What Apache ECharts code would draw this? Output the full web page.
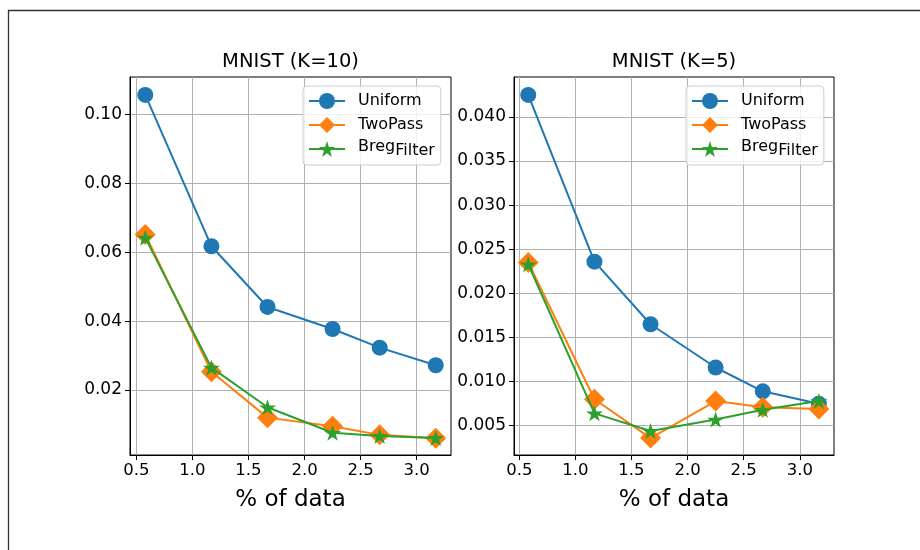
<!DOCTYPE html>
<html>
<head>
<meta charset="utf-8">
<script src="https://cdn.jsdelivr.net/npm/echarts@6/dist/echarts.min.js"></script>
<style>
html,body{margin:0;padding:0;background:#fff;}
#chart{width:920px;height:550px;}
</style>
</head>
<body>
<div id="chart"></div>
<script>
// ---- data ----
const xVals = [0.58, 1.17, 1.67, 2.25, 2.67, 3.17];
const k10Uniform = [0.1056, 0.0617, 0.0441, 0.0377, 0.0323, 0.0272];
const k10TwoPass = [0.0651, 0.0253, 0.0120, 0.0095, 0.0070, 0.0060];
const k10Breg    = [0.0642, 0.0265, 0.0150, 0.0076, 0.0067, 0.0061];
const k5Uniform  = [0.0425, 0.0236, 0.0165, 0.0116, 0.0089, 0.0075];
const k5TwoPass  = [0.0235, 0.0080, 0.0036, 0.0078, 0.0071, 0.0069];
const k5Breg     = [0.0233, 0.0064, 0.0044, 0.0057, 0.0068, 0.0078];
const xTicks = [0.5, 1.0, 1.5, 2.0, 2.5, 3.0];
const leftYTicks = [0.02, 0.04, 0.06, 0.08, 0.10];
const rightYTicks = [0.005, 0.010, 0.015, 0.020, 0.025, 0.030, 0.035, 0.040];
const seriesNames = ['Uniform', 'TwoPass', 'BregFilter'];
const titles = ['MNIST (K=10)', 'MNIST (K=5)'];
const xName = '% of data';

const FONT = 'DejaVu Sans';
const colors = ['#1f77b4', '#ff7f0e', '#2ca02c'];
const starPath = 'path://M100,0 L122.45,69.1 L195.11,69.1 L136.33,111.8 L158.78,180.9 L100,138.2 L41.22,180.9 L63.67,111.8 L4.89,69.1 L77.55,69.1 Z';
const symbols = ['circle', 'diamond', starPath];
const symbolSizes = [16, 21, [17, 16]];

const pair = ys => xVals.map((x, i) => [x, ys[i]]);

const grids = [
  {left: 130, top: 77, width: 321, height: 378},
  {left: 514, top: 77, width: 320, height: 378}
];
const xRanges = [[0.444, 3.306], [0.453, 3.305]];
const yRanges = [[0.00116, 0.1108], [0.00168, 0.04453]];
const yTickSets = [leftYTicks, rightYTicks];
const yDigits = [2, 3];
const yTickCounts = [5, 8];

function xAxis(i) {
  return {
    type: 'value', gridIndex: i, min: xRanges[i][0], max: xRanges[i][1],
    splitNumber: 5,
    name: xName, nameLocation: 'middle', nameGap: 34,
    nameTextStyle: {fontFamily: FONT, fontSize: 23, color: '#000'},
    axisLine: {show: true, onZero: false, lineStyle: {color: '#000', width: 1}},
    axisTick: {show: true, length: 5, lineStyle: {color: '#000'}, customValues: xTicks},
    axisLabel: {show: true, margin: 7, fontFamily: FONT, fontSize: 16.5, color: '#000',
      customValues: xTicks, formatter: v => v.toFixed(1)},
    splitLine: {show: true, lineStyle: {color: '#b0b0b0', width: 1}}
  };
}
function yAxis(i) {
  return {
    type: 'value', gridIndex: i, min: yRanges[i][0], max: yRanges[i][1],
    splitNumber: yTickCounts[i],
    axisLine: {show: true, onZero: false, lineStyle: {color: '#000', width: 1}},
    axisTick: {show: true, length: 5, lineStyle: {color: '#000'}, customValues: yTickSets[i]},
    axisLabel: {show: true, margin: 8, fontFamily: FONT, fontSize: 17, color: '#000',
      customValues: yTickSets[i], formatter: v => v.toFixed(yDigits[i])},
    splitLine: {show: true, lineStyle: {color: '#b0b0b0', width: 1}}
  };
}
const dataSets = [[k10Uniform, k10TwoPass, k10Breg], [k5Uniform, k5TwoPass, k5Breg]];
const series = [];
dataSets.forEach((set, g) => {
  set.forEach((ys, s) => {
    series.push({
      type: 'line', name: seriesNames[s], xAxisIndex: g, yAxisIndex: g,
      data: pair(ys), symbol: symbols[s], symbolSize: symbolSizes[s],
      showAllSymbol: true, clip: false, animation: false,
      lineStyle: {color: colors[s], width: 2},
      itemStyle: {color: colors[s], borderWidth: 0},
      emphasis: {disabled: true}, z: 2 + s
    });
  });
});
function legend(i) {
  return {
    orient: 'vertical', left: i === 0 ? 303 : 686, top: 86,
    padding: [5, 6, 6, 5], itemGap: 4, itemWidth: 36, itemHeight: 20,
    backgroundColor: 'rgba(255,255,255,0.8)', borderColor: '#cccccc', borderWidth: 1, borderRadius: 4,
    data: seriesNames, selectedMode: false,
    formatter: n => n === 'BregFilter' ? '{a|Breg}{b|Filter}' : '{n|' + n + '}',
    textStyle: {fontFamily: FONT, fontSize: 16, color: '#000', lineHeight: 20,
      rich: {
        n: {fontFamily: FONT, fontSize: 16, color: '#000', lineHeight: 20, padding: [0, 0, 0, 8]},
        a: {fontFamily: FONT, fontSize: 16, color: '#000', lineHeight: 20, padding: [0, 0, 4, 8]},
        b: {fontFamily: FONT, fontSize: 16, color: '#000', lineHeight: 20, padding: [4, 0, 0, 0]}
      }}
  };
}
const chart = echarts.init(document.getElementById('chart'), null, {renderer: 'canvas'});
chart.setOption({
  animation: false,
  backgroundColor: '#fff',
  title: titles.map((t, i) => ({
    text: t, left: i === 0 ? 290.5 : 674, top: 52, textAlign: 'center', padding: 0,
    textStyle: {fontFamily: FONT, fontSize: 19.5, fontWeight: 'normal', color: '#000'}
  })),
  grid: grids.map(g => Object.assign({show: true, borderColor: '#000', borderWidth: 1, backgroundColor: 'transparent', containLabel: false}, g)),
  xAxis: [xAxis(0), xAxis(1)],
  yAxis: [yAxis(0), yAxis(1)],
  legend: [legend(0), legend(1)],
  series: series,
  graphic: [{
    type: 'polyline', silent: true, z: 100,
    shape: {points: [[8.5, 560], [8.5, 10.5], [930, 10.5]]},
    style: {stroke: '#333', lineWidth: 1.3, fill: null}
  }]
});
</script>
</body>
</html>
